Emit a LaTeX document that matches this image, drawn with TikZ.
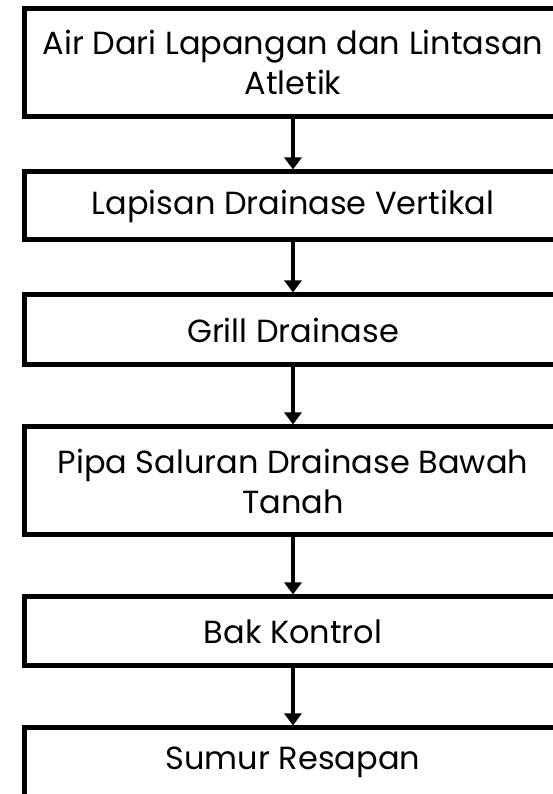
\documentclass[tikz,border=0pt]{standalone}
\usepackage{fontspec}
\setmainfont{Poppins}
\usetikzlibrary{arrows.meta}
\tikzset{
  box/.style={draw=black, line width=5pt, fill=white, minimum width=538pt, align=center, inner sep=0pt,
    font=\fontsize{32}{40}\selectfont},
  arr/.style={line width=4pt, -{Triangle[width=17pt,length=12pt]}}
}
\begin{document}
\begin{tikzpicture}[x=1pt,y=1pt]
\useasboundingbox (0,0) rectangle (553,794);
\clip (0,0) rectangle (553,794);
\node[box, minimum height=108pt] (b1) at (293,731.5) {Air Dari Lapangan dan Lintasan\\Atletik};
\node[box, minimum height=68pt] (b2) at (293,588) {Lapisan Drainase Vertikal};
\node[box, minimum height=70pt] (b3) at (293,464) {Grill Drainase};
\node[box, minimum height=108pt] (b4) at (293,313) {Pipa Saluran Drainase Bawah\\Tanah};
\node[box, minimum height=69pt] (b5) at (293,162.5) {Bak Kontrol};
\node[box, minimum height=69pt] (b6) at (293,31.5) {Sumur Resapan};
\draw[arr] (b1.south) -- (b2.north);
\draw[arr] (b2.south) -- (b3.north);
\draw[arr] (b3.south) -- (b4.north);
\draw[arr] (b4.south) -- (b5.north);
\draw[arr] (b5.south) -- (b6.north);
\end{tikzpicture}
\end{document}
